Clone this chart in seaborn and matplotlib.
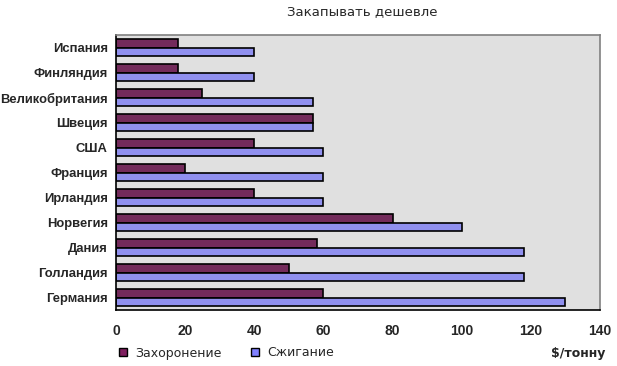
import pandas as pd
import matplotlib.pyplot as plt
import seaborn as sns
from matplotlib.patches import Patch
from matplotlib.ticker import FixedLocator

# Countries, top to bottom as in the chart
countries = ['Испания', 'Финляндия', 'Великобритания', 'Швеция', 'США', 'Франция',
             'Ирландия', 'Норвегия', 'Дания', 'Голландия', 'Германия']
burial = [18, 18, 25, 57, 40, 20, 40, 80, 58, 50, 60]
incineration = [40, 40, 57, 57, 60, 60, 60, 100, 118, 118, 130]
series_names = ['Захоронение', 'Сжигание']
colors = ['#7F1F5F', '#8080FF']

df = pd.DataFrame({
    'country': countries * 2,
    'value': burial + incineration,
    'series': [series_names[0]] * len(countries) + [series_names[1]] * len(countries),
})

sns.set_style('white')
plt.rcParams['font.family'] = ['Liberation Sans', 'DejaVu Sans']

fig = plt.figure(figsize=(6.17, 3.66), dpi=100)
ax = fig.add_axes([116 / 617, 1 - 310 / 366, (600 - 116) / 617, (310 - 35) / 366])
ax.set_facecolor('#E0E0E0')

sns.barplot(data=df, x='value', y='country', hue='series', order=countries,
            hue_order=series_names, palette=colors, orient='h', width=0.7,
            edgecolor='black', linewidth=1.2, legend=False, ax=ax)

ax.set_xlim(0, 140)
ax.set_ylim(len(countries) - 0.5, -0.5)
ax.set_xticks(range(0, 141, 20))
ax.set_xlabel('')
ax.set_ylabel('')
ax.tick_params(axis='x', direction='in', length=5, width=1, pad=10)
ax.tick_params(axis='y', which='major', length=0, pad=6)
ax.yaxis.set_minor_locator(FixedLocator([i + 0.5 for i in range(-1, len(countries))]))
ax.tick_params(axis='y', which='minor', direction='out', length=4, width=1)
for lbl in ax.get_xticklabels():
    lbl.set_fontweight('bold')
    lbl.set_fontsize(10)
for lbl in ax.get_yticklabels():
    lbl.set_fontweight('bold')
    lbl.set_fontsize(9.4)

for side in ['left', 'bottom']:
    ax.spines[side].set_color('black')
    ax.spines[side].set_linewidth(1.2)
for side in ['top', 'right']:
    ax.spines[side].set_color('#808080')
    ax.spines[side].set_linewidth(1.2)

fig.text(362 / 617, 1 - 12 / 366, 'Закапывать дешевле', ha='center', va='center',
         fontsize=9.5, family='DejaVu Sans')

handles = [Patch(facecolor=c, edgecolor='black', linewidth=1) for c in colors]
fig.legend(handles, series_names, loc='center left', bbox_to_anchor=(108 / 617, 1 - 353 / 366),
           ncol=2, frameon=False, handlelength=0.65, handleheight=0.65, handletextpad=0.6,
           columnspacing=2.4, prop={'size': 9, 'family': 'DejaVu Sans'})

fig.text(605 / 617, 1 - 354 / 366, '$/тонну', ha='right', va='center', fontsize=9,
         fontweight='bold', family='DejaVu Sans')

fig.savefig('out.png', dpi=100)
